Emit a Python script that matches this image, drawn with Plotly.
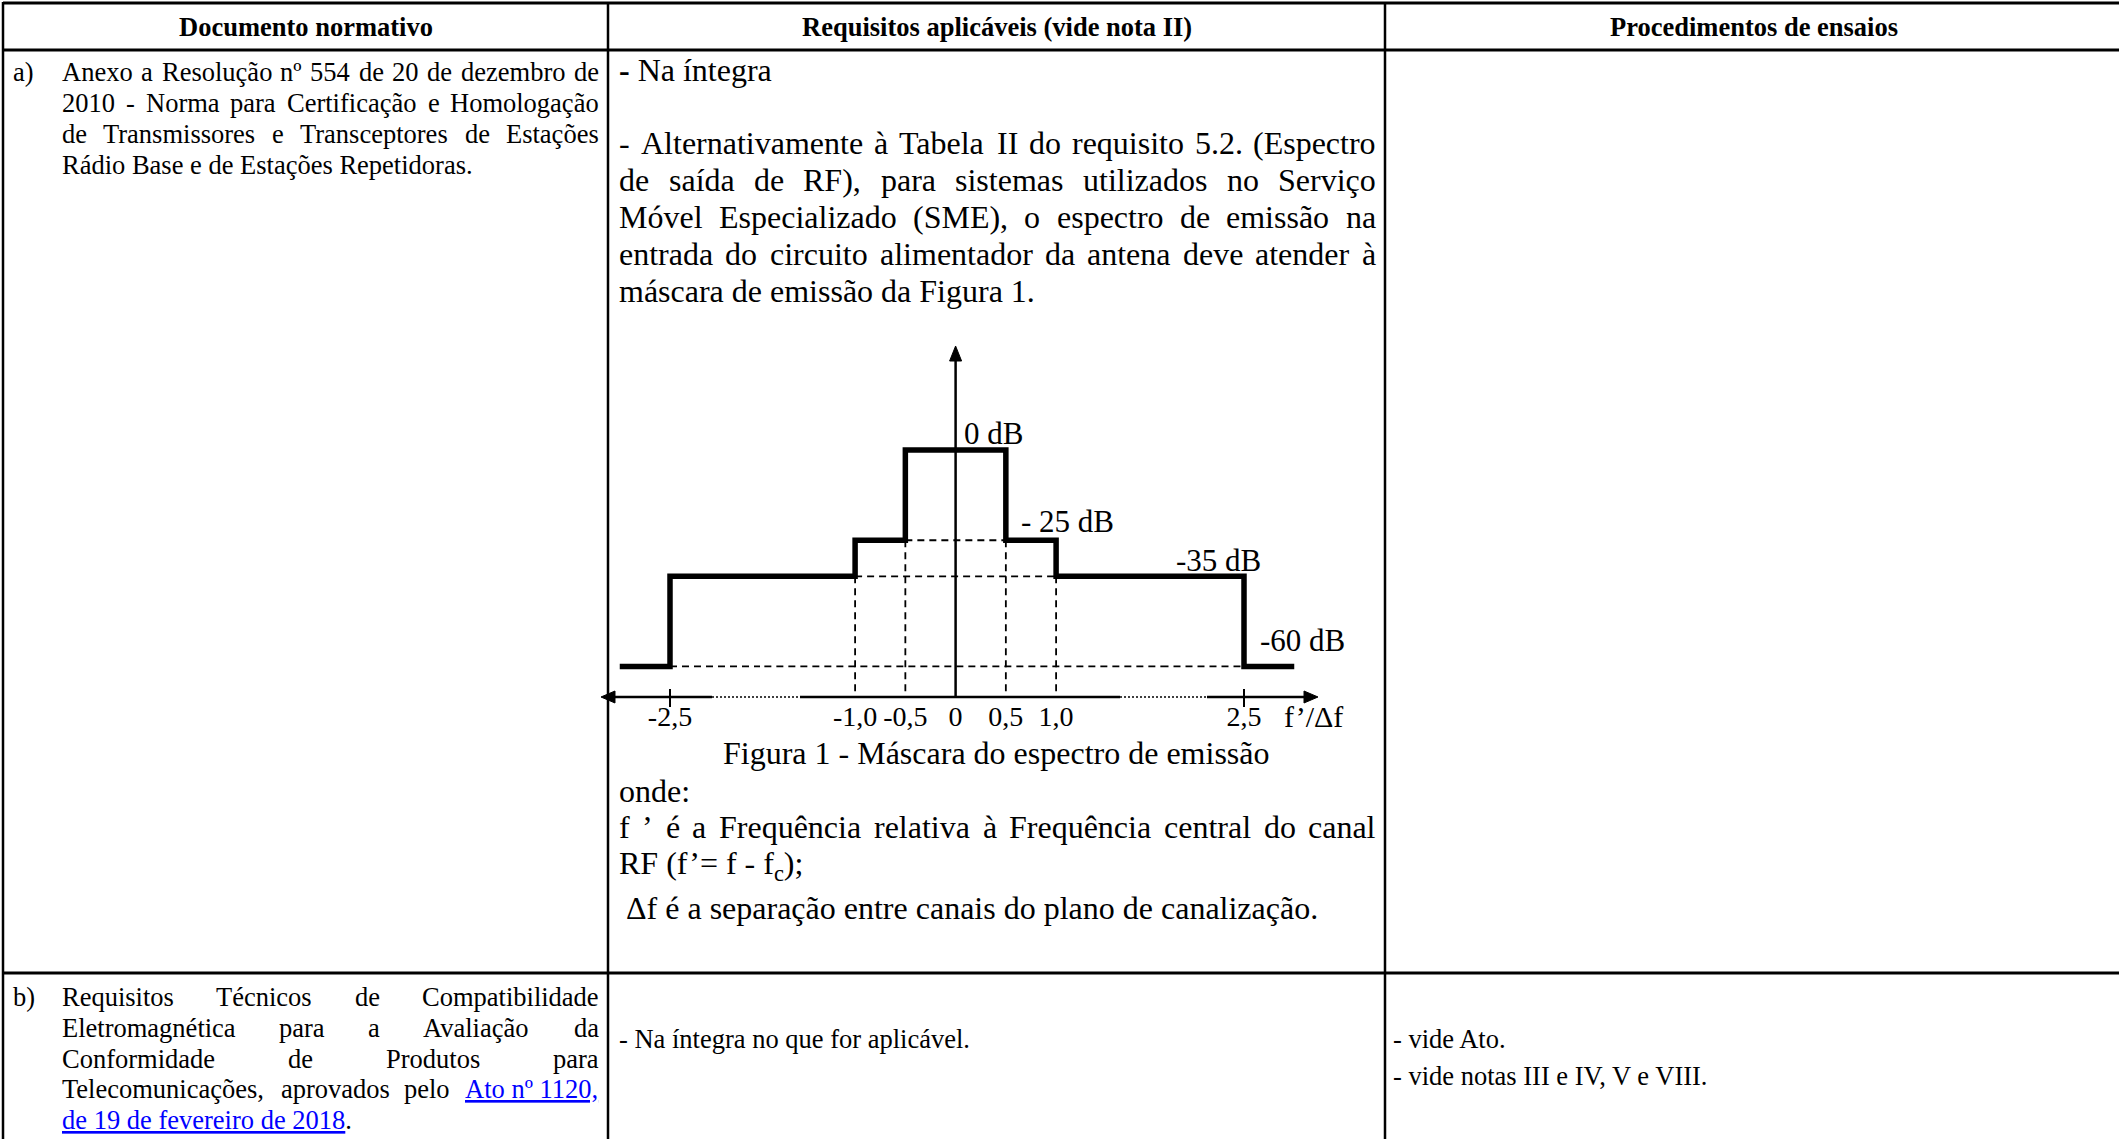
import re
import unicodedata

import plotly.graph_objects as go

W, H = 2119, 1139
SERIF = "Liberation Serif, Times New Roman, serif"
INK = "#000000"
LINK = "#0000ff"

# ---- texto da tabela ----
headers = ["Documento normativo", "Requisitos aplicáveis (vide nota II)", "Procedimentos de ensaios"]
item_a = ["Anexo a Resolução nº 554 de 20 de dezembro de",
          "2010 - Norma para Certificação e Homologação",
          "de Transmissores e Transceptores de Estações",
          "Rádio Base e de Estações Repetidoras."]
req_a_intro = "<b>-</b> Na íntegra"
req_a_par = ["- Alternativamente à Tabela II do requisito 5.2. (Espectro",
             "de saída de RF), para sistemas utilizados no Serviço",
             "Móvel Especializado (SME), o espectro de emissão na",
             "entrada do circuito alimentador da antena deve atender à",
             "máscara de emissão da Figura 1."]
caption = "Figura 1 - Máscara do espectro de emissão"
notes_onde = "onde:"
notes_f = ["f ’ é a Frequência relativa à Frequência central do canal",
           "RF (f’= f - f<sub>c</sub>);"]
notes_df = "Δf é a separação entre canais do plano de canalização."
item_b = ["Requisitos Técnicos de Compatibilidade",
          "Eletromagnética para a Avaliação da",
          "Conformidade de Produtos para",
          "Telecomunicações, aprovados pelo [Ato nº 1120,]",
          "[de 19 de fevereiro de 2018]."]
req_b = "- Na íntegra no que for aplicável."
proc_b = ["- vide Ato.", "- vide notas III e IV, V e VIII."]

# ---- Figura 1: máscara do espectro ----
mask_edges = [0.5, 1.0, 2.5]        # f'/Δf onde a máscara muda de nível
mask_levels = [0, -25, -35, -60]    # dB
mask_end = 3.0
level_labels = ["0 dB", "- 25 dB", "-35 dB", "-60 dB"]
tick_vals = [-2.5, -1.0, -0.5, 0, 0.5, 1.0, 2.5]
tick_text = ["-2,5", "-1,0", "-0,5", "0", "0,5", "1,0", "2,5"]
x_title = "f’/Δf"

# larguras Times (1/1000 em) p/ justificar
ADV = {" ": 250, "!": 333, "(": 333, ")": 333, ",": 250, "-": 333, ".": 250, "/": 278,
       ":": 278, ";": 278, "=": 564, "º": 310, "’": 333, "Δ": 612}
ADV.update({d: 500 for d in "0123456789"})
ADV.update(dict(zip("ABCDEFGHIJKLMNOPQRSTUVWXYZ",
                    [722, 667, 667, 722, 611, 556, 722, 722, 333, 389, 722, 611, 889,
                     722, 722, 556, 722, 667, 556, 611, 722, 722, 944, 722, 722, 611])))
ADV.update(dict(zip("abcdefghijklmnopqrstuvwxyz",
                    [444, 500, 444, 500, 444, 333, 500, 500, 278, 278, 500, 278, 778,
                     500, 500, 500, 500, 333, 389, 278, 500, 500, 722, 500, 500, 444])))

annotations = []
shapes = []


def px(x):
    return x / W


def py(y):
    return 1 - y / H


def label(x, y, text, size, anchor="left"):
    annotations.append(dict(x=px(x), y=py(y), xref="paper", yref="paper", text=text,
                            showarrow=False, xanchor=anchor, yanchor="middle",
                            borderpad=0, borderwidth=0,
                            font=dict(family=SERIF, size=size, color=INK)))


def text_width(s, size):
    s = re.sub(r"<[^>]+>|[\[\]]", "", s)
    return sum(ADV.get(c, ADV.get(unicodedata.normalize("NFD", c)[0], 500)) for c in s) * size / 1000


def linkify(s):
    return re.sub(r"\[([^\]]*)\]", rf'<span style="color:{LINK}"><u>\1</u></span>', s)


def paragraph(lines, left, right, y0, step, size):
    for i, line in enumerate(lines):
        y = y0 + i * step
        toks = re.findall(r"\[[^\]]*\]\S*|\S+", line)
        if i == len(lines) - 1 or len(toks) < 2:
            label(left, y, linkify(line), size)
            continue
        widths = [text_width(t, size) for t in toks]
        gap = (right - left - sum(widths)) / (len(toks) - 1)
        x = left
        for t, w in zip(toks, widths):
            label(x, y, linkify(t), size)
            x += w + gap


def rule(x0, y0, x1, y1, width, dash="solid"):
    shapes.append(dict(type="line", xref="paper", yref="paper", x0=px(x0), y0=py(y0),
                       x1=px(x1), y1=py(y1), line=dict(color=INK, width=width, dash=dash)))


def head(tip, back, half):
    # ponta de seta preenchida; tip/back em px, half = meia largura
    (tx, ty), (bx, by) = tip, back
    if tx == bx:
        pts = [(tx, ty), (bx - half, by), (bx + half, by)]
    else:
        pts = [(tx, ty), (bx, by - half), (bx, by + half)]
    path = "M" + " L".join(f"{px(a):.6f},{py(b):.6f}" for a, b in pts) + " Z"
    shapes.append(dict(type="path", xref="paper", yref="paper", path=path,
                       fillcolor=INK, line=dict(color=INK, width=1)))


# ---- grade da tabela ----
COLS = [3, 608, 1385, 2122]
for yy in (3, 50, 973):
    rule(3, yy, W + 5, yy, 3)
for xx in COLS[:3]:
    rule(xx, 2, xx, H + 5, 2.5)

for i, h in enumerate(headers):
    label((COLS[i] + COLS[i + 1]) / 2, 27, f"<b>{h}</b>", 26.5, "center")

label(13, 72, "a)", 26.5)
paragraph(item_a, 62, 599, 72, 31, 26.5)
label(619, 70, req_a_intro, 32)
paragraph(req_a_par, 619, 1376, 143, 37, 32)
label(996, 753, caption, 32, "center")
label(619, 791, notes_onde, 32)
paragraph(notes_f, 619, 1376, 827, 38, 32)
label(626, 908, notes_df, 32)

label(13, 997, "b)", 26.5)
paragraph(item_b, 62, 599, 997, 30.8, 26.5)
label(619, 1039, req_b, 26.5)
label(1393, 1039, proc_b[0], 26.5)
label(1393, 1076, proc_b[1], 26.5)

# ---- Figura 1: eixos (eixo x interrompido em três trechos) ----
UNIT = 100.5                       # px por unidade de f'/Δf
X0 = 955.6                         # px de f'/Δf = 0
OUTER = {-1: 670, 1: 1244}         # px de ±2,5 depois da interrupção
Y_TOP, Y_AXIS = 330, 697           # px da área do gráfico


def db(pix):
    return (450.1 - pix) / 3.605


y_min, y_max = db(Y_AXIS), db(Y_TOP)
e_out = mask_edges[-1]
segments = {
    "x2": (590, 760, lambda p: -e_out + (p - OUTER[-1]) / UNIT),
    "x": (760, 1163, lambda p: (p - X0) / UNIT),
    "x3": (1163, 1330, lambda p: e_out + (p - OUTER[1]) / UNIT),
}

step_x = [-mask_end] + [-e for e in reversed(mask_edges)] + mask_edges + [mask_end]
step_y = [mask_levels[-1]] + mask_levels[-2::-1] + mask_levels[1:] + [mask_levels[-1]]

guide_x, guide_y = [], []
for i, e in enumerate(mask_edges):
    lvl = mask_levels[i + 1]
    guide_x += [-e, e, None]
    guide_y += [lvl, lvl, None]
    if i < len(mask_edges) - 1:
        for s in (-1, 1):
            guide_x += [s * e, s * e, None]
            guide_y += [lvl, y_min, None]

fig = go.Figure()
layout_axes = {}
for name, (p0, p1, to_val) in segments.items():
    lo, hi = to_val(p0), to_val(p1)
    vals = [v for v in tick_vals if lo < v < hi]
    texts = [t for v, t in zip(tick_vals, tick_text) if lo < v < hi]
    fig.add_trace(go.Scatter(x=guide_x, y=guide_y, xaxis=name, yaxis="y", mode="lines",
                             line=dict(color=INK, width=1.8, dash="7px,5px"), hoverinfo="skip"))
    fig.add_trace(go.Scatter(x=step_x, y=step_y, xaxis=name, yaxis="y", mode="lines",
                             line=dict(color=INK, width=5.5, shape="hv"), hoverinfo="skip"))
    key = "xaxis" if name == "x" else "xaxis" + name[1:]
    layout_axes[key] = dict(domain=[px(p0), px(p1)], range=[lo, hi], anchor="y",
                            showgrid=False, zeroline=False, showline=False,
                            tickmode="array", tickvals=vals, ticktext=texts, ticks="",
                            tickangle=0, tickfont=dict(family=SERIF, size=28, color=INK),
                            fixedrange=True)
    for v in vals:
        if abs(v) == e_out:
            shapes.append(dict(type="line", xref=name, yref="paper", x0=v, x1=v,
                               y0=py(689), y1=py(707), line=dict(color=INK, width=2)))

# linha do eixo x: trechos sólidos, pontilhados na interrupção, setas nas pontas
rule(610, Y_AXIS, 712, Y_AXIS, 2.5)
rule(800, Y_AXIS, 1120, Y_AXIS, 2.5)
rule(1207, Y_AXIS, 1308, Y_AXIS, 2.5)
rule(712, Y_AXIS, 800, Y_AXIS, 1.5, "2px,2px")
rule(1120, Y_AXIS, 1207, Y_AXIS, 1.5, "2px,2px")
head((601, Y_AXIS), (615, Y_AXIS), 6)
head((1318, Y_AXIS), (1304, Y_AXIS), 6)
# eixo vertical (f'/Δf = 0)
shapes.append(dict(type="line", xref="x", yref="y", x0=0, x1=0, y0=y_min, y1=db(356),
                   line=dict(color=INK, width=2.5)))
head((X0, 346), (X0, 361), 6)

# rótulos de nível
label_place = [("x", 0, "left", 6, 17), ("x", mask_edges[0], "left", 13, 19),
               ("x3", e_out, "right", 19, 16), ("x3", e_out, "left", 14, 26)]
for lvl, txt, (ax_name, xv, anc, xs, ys) in zip(mask_levels, level_labels, label_place):
    annotations.append(dict(x=xv, y=lvl, xref=ax_name, yref="y", text=txt, showarrow=False,
                            xanchor=anc, yanchor="middle", xshift=xs, yshift=ys,
                            font=dict(family=SERIF, size=31, color=INK)))
label(1313, 716, x_title, 30, "center")

fig.update_layout(
    width=W, height=H, margin=dict(l=0, r=0, t=0, b=0),
    paper_bgcolor="white", plot_bgcolor="rgba(0,0,0,0)", showlegend=False,
    yaxis=dict(domain=[py(Y_AXIS), py(Y_TOP)], range=[y_min, y_max], anchor="x",
               visible=False, fixedrange=True),
    annotations=annotations, shapes=shapes, **layout_axes,
)

fig.write_html("out.html", config=dict(displayModeBar=False),
               post_script="document.body.style.margin='0';document.body.style.overflow='hidden';")
